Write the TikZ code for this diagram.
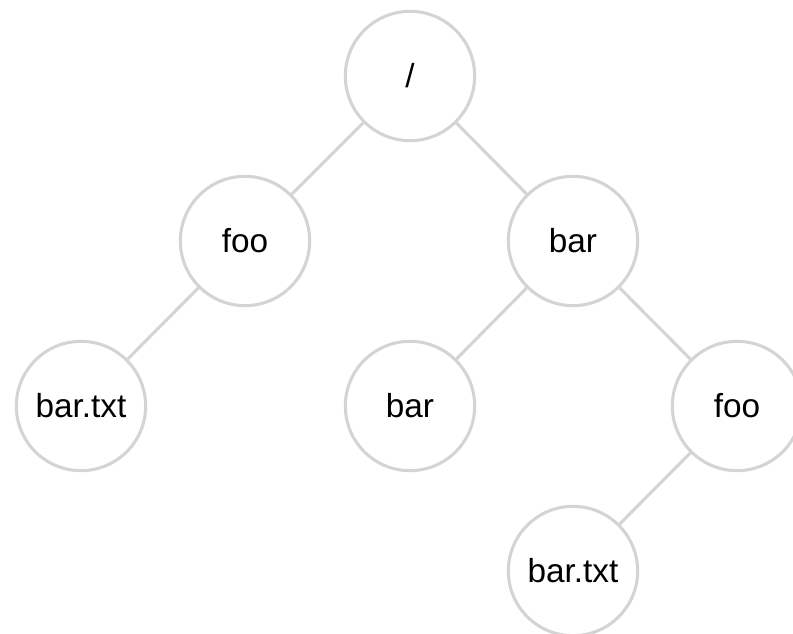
\documentclass[tikz,border=0pt]{standalone}
\usepackage{fontspec}
\setmainfont{Liberation Sans}
\definecolor{ringgray}{HTML}{D4D4D4}
\begin{document}
\begin{tikzpicture}[x=.75pt, y=-.75pt,
        dirnode/.style={circle, draw=ringgray, line width=2.3pt, minimum size=97pt, inner sep=0pt, font=\fontsize{25}{30}\selectfont},
        link/.style={draw=ringgray, line width=2.3pt}]
        \useasboundingbox (0,0) rectangle (793,634);
        \node[dirnode] (root) at (410,76) {/};
        \node[dirnode] (foo) at (245,241) {foo};
        \node[dirnode] (bar) at (573,241) {bar};
        \node[dirnode] (footxt) at (81,406) {bar.txt};
        \node[dirnode] (barbar) at (410,406) {bar};
        \node[dirnode] (barfoo) at (737,406) {foo};
        \node[dirnode] (barfootxt) at (573,571) {bar.txt};
        \draw[link] (root) -- (foo);
        \draw[link] (root) -- (bar);
        \draw[link] (foo) -- (footxt);
        \draw[link] (bar) -- (barbar);
        \draw[link] (bar) -- (barfoo);
        \draw[link] (barfoo) -- (barfootxt);
    \end{tikzpicture}
\end{document}
